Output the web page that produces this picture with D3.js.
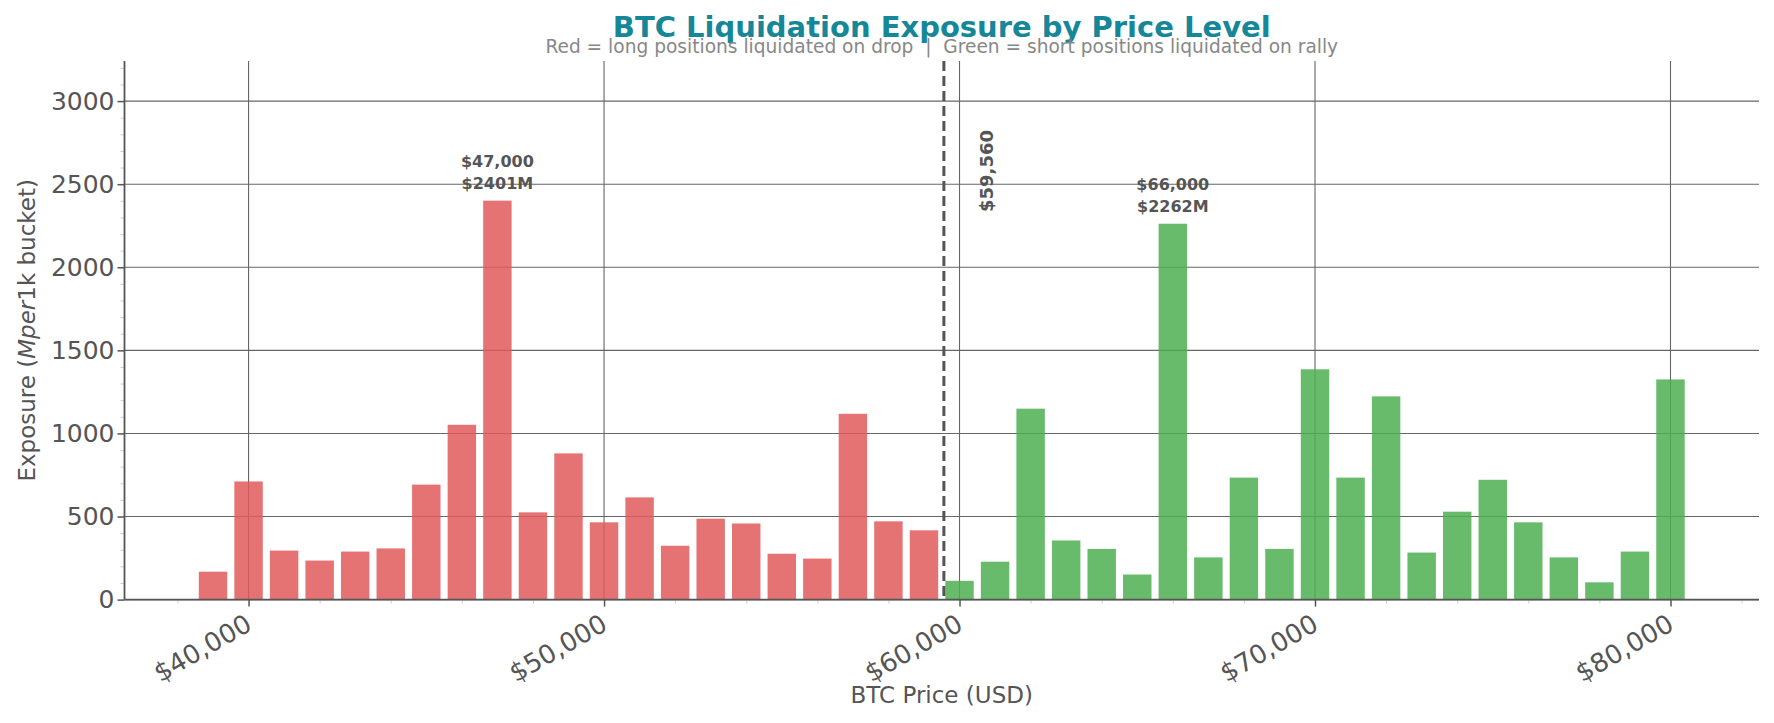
<!DOCTYPE html>
<html>
<head>
<meta charset="utf-8">
<script src="https://cdn.jsdelivr.net/npm/d3@7"></script>
<style>
  body { margin: 0; background: #fff; }
  svg { font-family: "DejaVu Sans", sans-serif; }
</style>
</head>
<body>
<div id="chart"></div>
<script>
// price buckets (1k wide) and exposure in $M
var prices = [39000, 40000, 41000, 42000, 43000, 44000, 45000, 46000, 47000, 48000,
              49000, 50000, 51000, 52000, 53000, 54000, 55000, 56000, 57000, 58000,
              59000, 60000, 61000, 62000, 63000, 64000, 65000, 66000, 67000, 68000,
              69000, 70000, 71000, 72000, 73000, 74000, 75000, 76000, 77000, 78000,
              79000, 80000];
var exposure = [168, 711, 295, 235, 289, 308, 692, 1052, 2401, 525,
                880, 465, 615, 324, 487, 458, 276, 247, 1118, 471,
                417, 113, 228, 1149, 356, 305, 151, 2262, 254, 734,
                305, 1386, 734, 1223, 283, 529, 721, 465, 254, 104,
                289, 1325];
var currentPrice = 59560;
var yTicks = [0, 500, 1000, 1500, 2000, 2500, 3000];
var xTicks = [40000, 50000, 60000, 70000, 80000];

var W = 1774, H = 723;
var margin = {top: 61, right: 15, bottom: 123.4, left: 124.5};
var width = W - margin.left - margin.right;
var height = H - margin.top - margin.bottom;

var data = prices.map(function (p, i) { return {price: p, value: exposure[i]}; });

// matplotlib style 5% padding around the bar edges
var barW = 800;
var lo = d3.min(prices) - barW / 2, hi = d3.max(prices) + barW / 2;
var pad = (hi - lo) * 0.05;
var x = d3.scaleLinear().domain([lo - pad, hi + pad]).range([0, width]);
var y = d3.scaleLinear().domain([0, d3.max(exposure) * 1.35]).range([height, 0]);

var svg = d3.select('#chart').append('svg')
    .attr('width', W).attr('height', H);

var main = svg.append('g')
    .attr('transform', 'translate(' + margin.left + ',' + margin.top + ')');

//grid
main.append('g').selectAll('line.gy').data(yTicks).enter().append('line')
    .attr('x1', 0).attr('x2', width)
    .attr('y1', function (d) { return y(d); }).attr('y2', function (d) { return y(d); })
    .attr('stroke', '#666').attr('stroke-width', 1.1);
main.append('g').selectAll('line.gx').data(xTicks).enter().append('line')
    .attr('y1', 0).attr('y2', height)
    .attr('x1', function (d) { return x(d); }).attr('x2', function (d) { return x(d); })
    .attr('stroke', '#666').attr('stroke-width', 1.1);

//bars
main.append('g').selectAll('rect').data(data).enter().append('rect')
    .attr('x', function (d) { return x(d.price - barW / 2); })
    .attr('width', function (d) { return x(d.price + barW / 2) - x(d.price - barW / 2); })
    .attr('y', function (d) { return y(d.value); })
    .attr('height', function (d) { return y(0) - y(d.value); })
    .attr('fill', function (d) { return d.price < currentPrice ? '#e05a5a' : '#4caf50'; })
    .attr('fill-opacity', 0.85);

//minor ticks
var yMinor = d3.range(0, 3201, 100).filter(function (d) { return d % 500 !== 0; });
var xMinor = d3.range(38000, 82001, 2000).filter(function (d) { return d % 10000 !== 0; });
var yMinorAxis = d3.axisLeft(y).tickValues(yMinor).tickSize(4).tickFormat('');
var xMinorAxis = d3.axisBottom(x).tickValues(xMinor).tickSize(4).tickFormat('');
main.append('g').call(yMinorAxis).call(function (g) {
  g.select('.domain').remove();
  g.selectAll('line').attr('stroke', '#c9cde0');
});
main.append('g').attr('transform', 'translate(0,' + height + ')').call(xMinorAxis).call(function (g) {
  g.select('.domain').remove();
  g.selectAll('line').attr('stroke', '#c9cde0');
});

//major axes
var yAxis = d3.axisLeft(y).tickValues(yTicks).tickSize(7).tickPadding(3).tickFormat(d3.format('d'));
var xAxis = d3.axisBottom(x).tickValues(xTicks).tickSize(7)
    .tickFormat(function (d) { return '$' + d3.format(',')(d); });

var ya = main.append('g').call(yAxis);
ya.select('.domain').attr('d', 'M0,0V' + height).attr('stroke', '#555').attr('stroke-width', 1.8);
ya.selectAll('.tick line').attr('stroke', '#555').attr('stroke-width', 1.5);
ya.selectAll('.tick text').attr('fill', '#555').style('font-size', '25px')
    .style('font-family', '"DejaVu Sans", sans-serif');

var xa = main.append('g').attr('transform', 'translate(0,' + height + ')').call(xAxis);
xa.select('.domain').attr('d', 'M0,0H' + width).attr('stroke', '#555').attr('stroke-width', 1.8);
xa.selectAll('.tick line').attr('stroke', '#555').attr('stroke-width', 1.5);
xa.selectAll('.tick text')
    .attr('fill', '#555').style('font-size', '26px')
    .style('font-family', '"DejaVu Sans", sans-serif')
    .attr('text-anchor', 'end')
    .attr('y', 0).attr('dy', '0.73em')
    .attr('transform', 'translate(-5,13) rotate(-30)');

//current price marker
main.append('line')
    .attr('x1', x(currentPrice)).attr('x2', x(currentPrice))
    .attr('y1', 0).attr('y2', height)
    .attr('stroke', '#555').attr('stroke-width', 3)
    .attr('stroke-dasharray', '10,5');
main.append('text')
    .attr('transform', 'translate(' + (x(currentPrice) + 49) + ',' + 69 + ') rotate(-90)')
    .attr('text-anchor', 'end')
    .attr('fill', '#555').style('font-size', '18px').style('font-weight', 'bold')
    .text('$' + d3.format(',')(currentPrice));

//annotate biggest bucket on each side
var below = data.filter(function (d) { return d.price < currentPrice; });
var above = data.filter(function (d) { return d.price >= currentPrice; });
[d3.greatest(below, function (d) { return d.value; }),
 d3.greatest(above, function (d) { return d.value; })].forEach(function (d) {
  var t = main.append('text')
      .attr('text-anchor', 'middle')
      .attr('fill', '#555').style('font-size', '16px').style('font-weight', 'bold');
  t.append('tspan').attr('x', x(d.price)).attr('y', y(d.value) - 33.5)
      .text('$' + d3.format(',')(d.price));
  t.append('tspan').attr('x', x(d.price)).attr('y', y(d.value) - 12)
      .text('$' + d.value + 'M');
});

//labels
svg.append('text')
    .attr('x', margin.left + width / 2).attr('y', 703)
    .attr('text-anchor', 'middle').attr('fill', '#555')
    .style('font-size', '23px')
    .text('BTC Price (USD)');

var yl = svg.append('text')
    .attr('transform', 'translate(35,' + (margin.top + height / 2) + ') rotate(-90)')
    .attr('text-anchor', 'middle').attr('fill', '#555')
    .style('font-size', '23px');
yl.append('tspan').text('Exposure (');
yl.append('tspan').style('font-style', 'italic').text('Mper');
yl.append('tspan').text('1k bucket)');

svg.append('text')
    .attr('x', margin.left + width / 2).attr('y', 37)
    .attr('text-anchor', 'middle').attr('fill', '#168699')
    .style('font-size', '29px').style('font-weight', 'bold')
    .text('BTC Liquidation Exposure by Price Level');

svg.append('text')
    .attr('x', margin.left + width / 2).attr('y', 53)
    .attr('text-anchor', 'middle').attr('fill', '#888')
    .style('font-size', '18.6px').style('white-space', 'pre')
    .text('Red = long positions liquidated on drop  |  Green = short positions liquidated on rally');
</script>
</body>
</html>
